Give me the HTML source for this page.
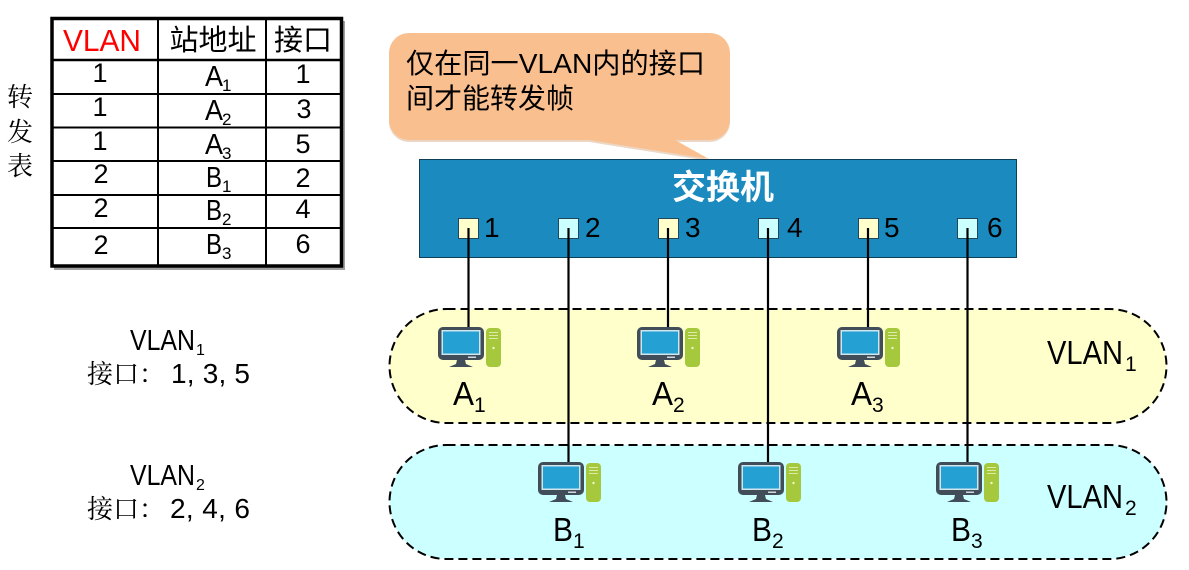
<!DOCTYPE html>
<html><head><meta charset="utf-8"><style>
html,body{margin:0;padding:0;background:#fff;width:1189px;height:570px;overflow:hidden}
svg{display:block}
text{font-family:"Liberation Sans","Noto Sans CJK SC",sans-serif;fill:#000}
.cjk{font-family:"Liberation Sans","Noto Serif CJK SC",serif}
.m{text-anchor:middle}
</style></head><body>
<svg width="1189" height="570" viewBox="0 0 1189 570" xmlns="http://www.w3.org/2000/svg">
<defs>
<g id="pc">
<rect x="0" y="0" width="46" height="33" rx="5" fill="#414e5a"/>
<rect x="3.5" y="3" width="39" height="25" fill="#cfe6ee"/>
<rect x="5" y="4.500" width="36" height="22" fill="#24a0d3"/>
<rect x="30" y="29.500" width="8" height="1.500" fill="#cfd8dc"/>
<path d="M19 33h8l1 4 7 3h-24l7-3z" fill="#414e5a"/>
<rect x="48" y="1" width="15" height="39" rx="4" fill="#a6c83c"/>
<rect x="51" y="5" width="9" height="1" fill="#dfeaa8"/><rect x="51" y="8" width="9" height="1" fill="#dfeaa8"/><rect x="51" y="11" width="9" height="1" fill="#dfeaa8"/>
<circle cx="55.500" cy="21" r="1.200" fill="#eef5c8"/>
</g>
</defs>

<!-- table -->
<rect x="54" y="21" width="291" height="249" fill="#a0a0a0"/>
<rect x="52" y="18.500" width="289.500" height="247.500" fill="#fff" stroke="#000" stroke-width="3.500"/>
<g stroke="#000" stroke-width="2" fill="none">
<path d="M158 18V266M266 18V266"/>
<path d="M52 60H342" stroke-width="2.500"/>
<path d="M52 94H342M52 127.500H342M52 161H342M52 195H342M52 228H342"/>
</g>
<text x="63" y="51" font-size="31" textLength="78" lengthAdjust="spacingAndGlyphs" style="fill:#ff0000">VLAN</text>
<text class="m" x="213" y="50" font-size="29">站地址</text>
<text class="m" x="303" y="50" font-size="29">接口</text>
<g>
<text class="m" x="100" y="82" font-size="27">1</text>
<text class="m" x="100" y="116" font-size="27">1</text>
<text class="m" x="100" y="150" font-size="27">1</text>
<text class="m" x="101" y="183" font-size="27">2</text>
<text class="m" x="101" y="217" font-size="27">2</text>
<text class="m" x="101" y="254" font-size="27">2</text>
<text class="m" x="303" y="83" font-size="27">1</text>
<text class="m" x="304" y="118" font-size="27">3</text>
<text class="m" x="303" y="153" font-size="27">5</text>
<text class="m" x="303" y="187" font-size="27">2</text>
<text class="m" x="303" y="218" font-size="27">4</text>
<text class="m" x="303" y="253" font-size="27">6</text>
</g>
<g font-size="29">
<text x="205" y="86" textLength="18" lengthAdjust="spacingAndGlyphs">A</text><text x="222" y="91" font-size="17">1</text>
<text x="205" y="120" textLength="18" lengthAdjust="spacingAndGlyphs">A</text><text x="222" y="125" font-size="17">2</text>
<text x="205" y="154" textLength="18" lengthAdjust="spacingAndGlyphs">A</text><text x="222" y="159" font-size="17">3</text>
<text x="206" y="187" textLength="16" lengthAdjust="spacingAndGlyphs">B</text><text x="222" y="192" font-size="17">1</text>
<text x="206" y="220" textLength="16" lengthAdjust="spacingAndGlyphs">B</text><text x="222" y="225" font-size="17">2</text>
<text x="206" y="254" textLength="16" lengthAdjust="spacingAndGlyphs">B</text><text x="222" y="259" font-size="17">3</text>
</g>
<text class="cjk" x="7" y="106" font-size="26">转</text>
<text class="cjk" x="7" y="141" font-size="26">发</text>
<text class="cjk" x="7" y="175" font-size="26">表</text>

<!-- left labels -->
<text x="130" y="350" font-size="29" textLength="65" lengthAdjust="spacingAndGlyphs">VLAN</text><text x="196" y="355" font-size="16">1</text>
<text class="cjk" x="87" y="383" font-size="26">接口：</text>
<text x="171" y="383" font-size="28" textLength="79" lengthAdjust="spacing">1, 3, 5</text>
<text x="130" y="485" font-size="29" textLength="65" lengthAdjust="spacingAndGlyphs">VLAN</text><text x="196" y="490" font-size="16">2</text>
<text class="cjk" x="87" y="518" font-size="26">接口：</text>
<text x="170" y="518" font-size="28" textLength="80" lengthAdjust="spacing">2, 4, 6</text>

<!-- callout -->
<path d="M409 33H710a20 20 0 0 1 20 20V120a20 20 0 0 1-20 20H675L709 159 589 140H409a20 20 0 0 1-20-20V53a20 20 0 0 1 20-20z" fill="#d9b08c" transform="translate(0,2)" opacity=".5"/>
<path d="M409 33H710a20 20 0 0 1 20 20V120a20 20 0 0 1-20 20H675L709 159 589 140H409a20 20 0 0 1-20-20V53a20 20 0 0 1 20-20z" fill="#fabf8f"/>
<text x="406" y="73" font-size="28" textLength="299" lengthAdjust="spacingAndGlyphs">仅在同一VLAN内的接口</text>
<text x="406" y="108" font-size="28">间才能转发帧</text>

<!-- switch -->
<rect x="419.500" y="159.500" width="597" height="98" fill="#1b8abf" stroke="#0d3f58" stroke-width="1"/>
<text class="m" x="723" y="199" font-size="34" font-weight="bold" style="fill:#fff">交换机</text>

<!-- VLAN pills -->
<rect x="389.500" y="309" width="777" height="114" rx="57" fill="#ffffcc" stroke="#000" stroke-width="2" stroke-dasharray="9 5"/>
<rect x="389.500" y="445" width="777" height="114" rx="57" fill="#ccffff" stroke="#000" stroke-width="2" stroke-dasharray="9 5"/>

<!-- ports -->
<g stroke="#24465a" stroke-width="1">
<rect x="458.500" y="218.500" width="20" height="20" fill="#ffffcc"/>
<rect x="558.500" y="218.500" width="20" height="20" fill="#ccffff"/>
<rect x="658.500" y="218.500" width="20" height="20" fill="#ffffcc"/>
<rect x="758.500" y="218.500" width="20" height="20" fill="#ccffff"/>
<rect x="858.500" y="218.500" width="20" height="20" fill="#ffffcc"/>
<rect x="957.500" y="218.500" width="20" height="20" fill="#ccffff"/>
</g>
<g font-size="28">
<text x="484" y="237">1</text><text x="585" y="237">2</text><text x="685" y="237">3</text>
<text x="787" y="237">4</text><text x="884" y="237">5</text><text x="987" y="237">6</text>
</g>

<!-- connectors -->
<g stroke="#000" stroke-width="2.200" fill="none">
<path d="M468.500 228V328M568.500 228V463M668 228V328M768 228V463M868 228V328M967.500 228V463"/>
</g>

<!-- computers -->
<use href="#pc" x="438" y="327"/><use href="#pc" x="637" y="327"/><use href="#pc" x="837" y="327"/>
<use href="#pc" x="538" y="462"/><use href="#pc" x="738" y="462"/><use href="#pc" x="936" y="462"/>

<g font-size="33">
<text x="453" y="405" textLength="21" lengthAdjust="spacingAndGlyphs">A</text><text x="474" y="412" font-size="21">1</text>
<text x="652" y="405" textLength="21" lengthAdjust="spacingAndGlyphs">A</text><text x="673" y="412" font-size="21">2</text>
<text x="851" y="405" textLength="21" lengthAdjust="spacingAndGlyphs">A</text><text x="872" y="412" font-size="21">3</text>
<text x="553" y="541" textLength="20" lengthAdjust="spacingAndGlyphs">B</text><text x="573" y="548" font-size="21">1</text>
<text x="752" y="541" textLength="20" lengthAdjust="spacingAndGlyphs">B</text><text x="772" y="548" font-size="21">2</text>
<text x="951" y="541" textLength="20" lengthAdjust="spacingAndGlyphs">B</text><text x="971" y="548" font-size="21">3</text>
<text x="1047" y="364" textLength="76" lengthAdjust="spacingAndGlyphs">VLAN</text><text x="1125" y="371" font-size="21">1</text>
<text x="1047" y="508" textLength="76" lengthAdjust="spacingAndGlyphs">VLAN</text><text x="1125" y="515" font-size="21">2</text>
</g>
</svg>
</body></html>
